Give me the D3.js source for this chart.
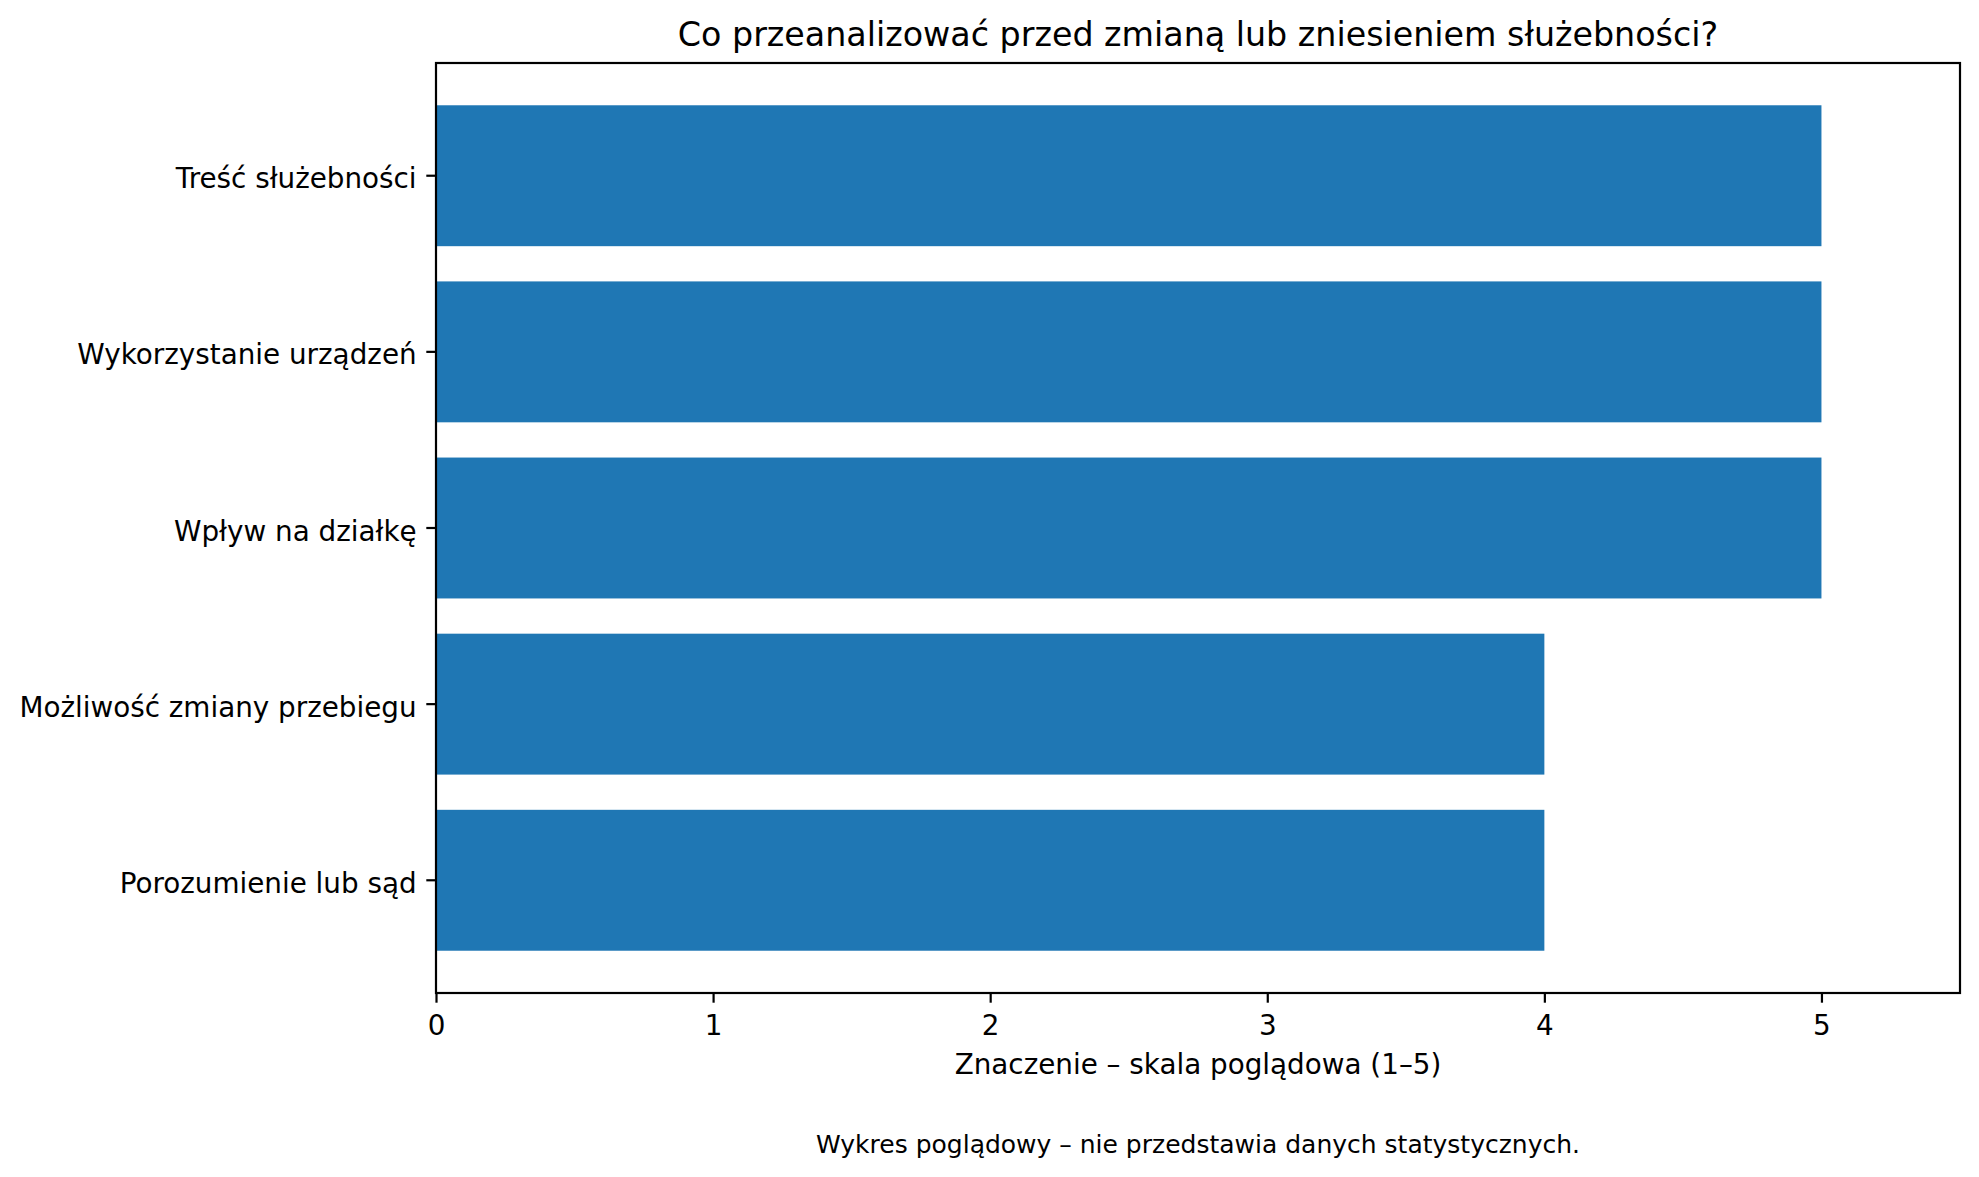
<!DOCTYPE html>
<html>
<head>
<meta charset="utf-8">
<script src="https://cdn.jsdelivr.net/npm/d3@7"></script>
<style>
  body { margin: 0; background: #fff; }
  text { font-family: "DejaVu Sans", sans-serif; fill: #000; }
</style>
</head>
<body>
<div id="chart"></div>
<script>
// data
const categories = [
  "Treść służebności",
  "Wykorzystanie urządzeń",
  "Wpływ na działkę",
  "Możliwość zmiany przebiegu",
  "Porozumienie lub sąd"
];
const values = [5, 5, 5, 4, 4];
const xTicks = [0, 1, 2, 3, 4, 5];
const xMax = 5.5;

const titleText = "Co przeanalizować przed zmianą lub zniesieniem służebności?";
const xLabelText = "Znaczenie – skala poglądowa (1–5)";
const noteText = "Wykres poglądowy – nie przedstawia danych statystycznych.";

const W = 1979, H = 1177;
const margin = { top: 63, right: 19, bottom: 184, left: 436 };
const width = W - margin.left - margin.right;
const height = H - margin.top - margin.bottom;

const svg = d3.select("#chart")
  .append("svg")
  .attr("width", W)
  .attr("height", H);

var g = svg.append("g")
  .attr("transform", "translate(" + margin.left + "," + margin.top + ")");

var xScale = d3.scaleLinear().domain([0, xMax]).range([0, width]);
var yScale = d3.scaleBand()
  .domain(categories)
  .range([0, height])
  .paddingInner(0.2)
  .paddingOuter(0.24);

// bars
g.selectAll(".bar")
  .data(categories)
  .enter()
  .append("rect")
  .attr("class", "bar")
  .attr("x", xScale(0))
  .attr("y", function (d) { return yScale(d); })
  .attr("width", function (d, i) { return xScale(values[i]) - xScale(0); })
  .attr("height", yScale.bandwidth())
  .attr("fill", "#1f77b4");

// x axis
var xAxis = g.append("g")
  .attr("transform", "translate(0," + height + ")")
  .call(d3.axisBottom(xScale)
    .tickValues(xTicks)
    .tickFormat(d3.format("d"))
    .tickSize(9.7)
    .tickSizeOuter(0)
    .tickPadding(9.7));
xAxis.select(".domain").remove();
xAxis.selectAll("line").attr("stroke", "#000").attr("stroke-width", 2.2);
xAxis.selectAll("text")
  .attr("y", 42)
  .attr("dy", null)
  .style("font-size", "27.8px")
  .style("font-family", "DejaVu Sans");

// y axis
var yAxis = g.append("g")
  .call(d3.axisLeft(yScale)
    .tickSize(9.7)
    .tickSizeOuter(0)
    .tickPadding(9.7));
yAxis.select(".domain").remove();
yAxis.selectAll("line").attr("stroke", "#000").attr("stroke-width", 2.2);
yAxis.selectAll("text")
  .attr("dy", "0.45em")
  .style("font-size", "27.8px")
  .style("font-family", "DejaVu Sans");

// frame
g.append("rect")
  .attr("x", 0)
  .attr("y", 0)
  .attr("width", width)
  .attr("height", height)
  .attr("fill", "none")
  .attr("stroke", "#000")
  .attr("stroke-width", 2.2);

// title
svg.append("text")
  .attr("x", margin.left + width / 2)
  .attr("y", 46)
  .attr("text-anchor", "middle")
  .style("font-size", "33.3px")
  .text(titleText);

// x label
svg.append("text")
  .attr("x", margin.left + width / 2)
  .attr("y", 1074)
  .attr("text-anchor", "middle")
  .style("font-size", "27.8px")
  .text(xLabelText);

// footnote
svg.append("text")
  .attr("x", margin.left + width / 2)
  .attr("y", 1152.5)
  .attr("text-anchor", "middle")
  .style("font-size", "25px")
  .text(noteText);
</script>
</body>
</html>
